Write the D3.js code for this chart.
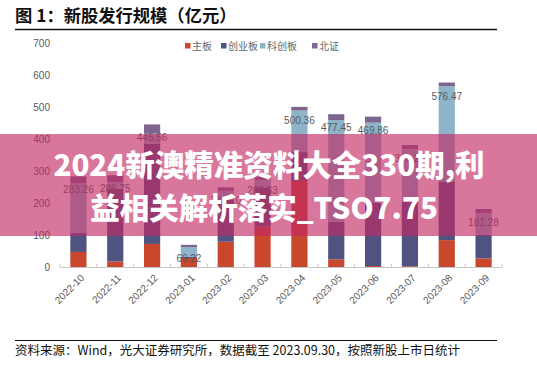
<!DOCTYPE html>
<meta charset="utf-8">
<style>
    body { margin: 0; background: #fff; }
    svg { display: block; font-family: "Liberation Sans", "Noto Sans CJK SC", sans-serif; }
</style>
<script src="https://d3js.org/d3.v7.min.js"></script>
<div id="chart"></div>
<script>
    // months on the x axis
    var months = ["2022-10", "2022-11", "2022-12", "2023-01", "2023-02", "2023-03",
                  "2023-04", "2023-05", "2023-06", "2023-07", "2023-08", "2023-09"];
    // issue size per board (亿元)
    var mainBoard = [47, 17, 72, 28, 79, 126, 269, 24, 3, 2, 84, 27];
    var chiNext   = [60, 228, 313, 4, 131, 123, 90, 117, 197, 201, 182, 73];
    var star      = [155, 20, 33, 30, 28, 23, 130, 318, 251, 165, 299, 68];
    var bse       = [21.26, 21.75, 27.56, 7.22, 11.1, 10.63, 11.36, 18.45, 18.86, 13.2, 11.47, 13.28];
    var seriesNames = ["主板", "创业板", "科创板", "北证"];
    var seriesColors = ["#c8472d", "#4f5380", "#8db4c9", "#7e6590"];
    var yTicks = [0, 100, 200, 300, 400, 500, 600, 700];

    var W = 537, H = 371;
    var svg = d3.select("#chart").append("svg")
        .attr("width", W)
        .attr("height", H);

    // title
    svg.append("text")
        .attr("x", 15)
        .attr("y", 22)
        .attr("font-family", "Noto Sans CJK SC")
        .attr("font-weight", "bold")
        .attr("font-size", "17.3px")
        .attr("fill", "#111")
        .text("图 1：新股发行规模（亿元）");
    svg.append("line")
        .attr("x1", 15).attr("x2", 497)
        .attr("y1", 29.5).attr("y2", 29.5)
        .attr("stroke", "#111")
        .attr("stroke-width", 1.3);

    // scales
    var x = d3.scaleBand()
        .domain(months)
        .range([60, 502])
        .paddingInner(0.56)
        .paddingOuter(0.28);
    var y = d3.scaleLinear()
        .domain([0, 700])
        .range([267, 43]);

    // stack the four boards
    var rows = months.map(function (m, i) {
        return { month: m, "主板": mainBoard[i], "创业板": chiNext[i], "科创板": star[i], "北证": bse[i] };
    });
    var stacked = d3.stack().keys(seriesNames)(rows);

    // y tick labels, no axis line
    svg.append("g")
        .selectAll("text")
        .data(yTicks)
        .enter()
        .append("text")
        .attr("x", 50)
        .attr("y", function (d) { return y(d); })
        .attr("dy", "0.35em")
        .attr("text-anchor", "end")
        .attr("font-size", "10px")
        .attr("fill", "#595959")
        .text(function (d) { return d; });

    // bars
    svg.append("g")
        .selectAll("g")
        .data(stacked)
        .enter()
        .append("g")
        .attr("fill", function (d, i) { return seriesColors[i]; })
        .selectAll("rect")
        .data(function (d) { return d; })
        .enter()
        .append("rect")
        .attr("x", function (d) { return x(d.data.month); })
        .attr("width", x.bandwidth())
        .attr("y", function (d) { return y(d[1]); })
        .attr("height", function (d) { return y(d[0]) - y(d[1]); });

    // x axis line with ticks between the categories
    var step = x.step();
    svg.append("line")
        .attr("x1", x.range()[0]).attr("x2", x.range()[1])
        .attr("y1", y(0) + 0.5).attr("y2", y(0) + 0.5)
        .attr("stroke", "#c8c8c8");
    svg.append("g")
        .selectAll("line")
        .data(d3.range(months.length + 1))
        .enter()
        .append("line")
        .attr("x1", function (i) { return x.range()[0] + i * step; })
        .attr("x2", function (i) { return x.range()[0] + i * step; })
        .attr("y1", y(0) - 3)
        .attr("y2", y(0) + 0.5)
        .attr("stroke", "#c8c8c8");

    // x labels rotated
    svg.append("g")
        .selectAll("text")
        .data(months)
        .enter()
        .append("text")
        .attr("transform", function (d) {
            return "translate(" + (x(d) + x.bandwidth() / 2 + 4) + "," + (y(0) + 9) + ") rotate(-45)";
        })
        .attr("text-anchor", "end")
        .attr("dy", "0.35em")
        .attr("font-size", "10px")
        .attr("fill", "#595959")
        .text(function (d) { return d; });

    // total labels just inside the top of each bar
    var fmt = d3.format(".2f");
    svg.append("g")
        .selectAll("text")
        .data(rows)
        .enter()
        .append("text")
        .attr("x", function (d) { return x(d.month) + x.bandwidth() / 2; })
        .attr("y", function (d) { return y(d["主板"] + d["创业板"] + d["科创板"] + d["北证"]) + 17; })
        .attr("text-anchor", "middle")
        .attr("font-size", "10px")
        .attr("fill", "#595959")
        .text(function (d) { return fmt(d["主板"] + d["创业板"] + d["科创板"] + d["北证"]); });

    // legend
    var legendX = [185, 221, 260, 312];
    var legend = svg.append("g")
        .selectAll("g")
        .data(seriesNames)
        .enter()
        .append("g")
        .attr("transform", function (d, i) { return "translate(" + legendX[i] + ",46)"; });
    legend.append("rect")
        .attr("x", 0).attr("y", -3)
        .attr("width", 5.5).attr("height", 5.5)
        .attr("fill", function (d, i) { return seriesColors[i]; });
    legend.append("text")
        .attr("x", 7)
        .attr("dy", "0.35em")
        .attr("font-family", "Noto Sans CJK SC")
        .attr("font-size", "10px")
        .attr("fill", "#666")
        .text(function (d) { return d; });

    // source note
    svg.append("line")
        .attr("x1", 15).attr("x2", 497)
        .attr("y1", 340.5).attr("y2", 340.5)
        .attr("stroke", "#111")
        .attr("stroke-width", 1);
    svg.append("text")
        .attr("x", 15)
        .attr("y", 355)
        .attr("font-family", "Noto Sans CJK SC")
        .attr("font-size", "12.5px")
        .attr("fill", "#111")
        .text("资料来源：Wind，光大证券研究所，数据截至 2023.09.30，按照新股上市日统计");

    // pink overlay banner over the chart
    svg.append("rect")
        .attr("x", 0).attr("y", 134)
        .attr("width", W).attr("height", 102)
        .attr("fill", "rgb(194,40,100)")
        .attr("opacity", 0.64);
    var bannerLines = ["2024新澳精准资料大全330期,利", "益相关解析落实_TSO7.75"];
    svg.append("g")
        .selectAll("text")
        .data(bannerLines)
        .enter()
        .append("text")
        .attr("x", function (d, i) { return i === 0 ? 269 : 264; })
        .attr("y", function (d, i) { return 176 + i * 43; })
        .attr("text-anchor", "middle")
        .attr("font-family", "Noto Sans CJK SC")
        .attr("font-weight", 900)
        .attr("font-size", "29.5px")
        .attr("fill", "#fff")
        .text(function (d) { return d; });
</script>
